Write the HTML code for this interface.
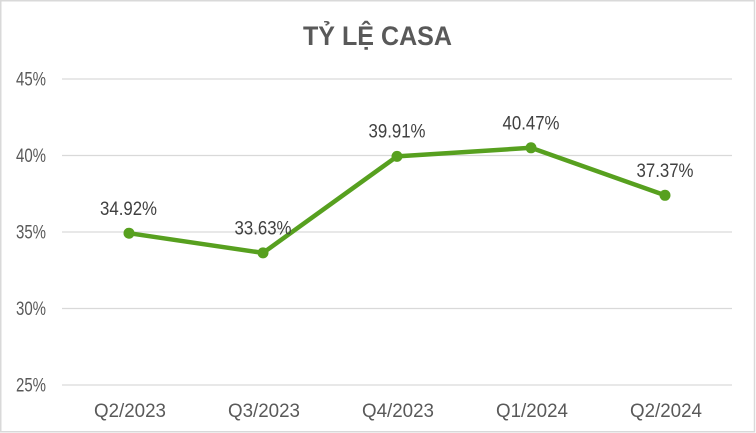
<!DOCTYPE html>
<html>
<head>
<meta charset="utf-8">
<style>
  html,body{margin:0;padding:0;background:#fff;}
  svg{display:block;}
  text{font-family:"Liberation Sans","DejaVu Sans",sans-serif;}
</style>
</head>
<body>
<svg width="756" height="433" viewBox="0 0 756 433" xmlns="http://www.w3.org/2000/svg">
  <rect x="0" y="0" width="756" height="433" fill="#ffffff"/>
  <rect x="0.75" y="0.75" width="753.75" height="431" fill="none" stroke="#d9d9d9" stroke-width="1.5"/>

  <!-- Title -->
  <text x="377.5" y="45" text-anchor="middle" font-size="27" font-weight="bold" fill="#595959" textLength="149" lengthAdjust="spacingAndGlyphs">TỶ LỆ CASA</text>

  <!-- Gridlines -->
  <g stroke="#d9d9d9" stroke-width="1.3">
    <line x1="62" y1="79" x2="732" y2="79"/>
    <line x1="62" y1="155.5" x2="732" y2="155.5"/>
    <line x1="62" y1="232" x2="732" y2="232"/>
    <line x1="62" y1="308.5" x2="732" y2="308.5"/>
    <line x1="62" y1="385" x2="732" y2="385"/>
  </g>

  <!-- Y labels -->
  <g font-size="19" fill="#595959" text-anchor="end">
    <text x="46" y="85.7" textLength="30" lengthAdjust="spacingAndGlyphs">45%</text>
    <text x="46" y="162.2" textLength="30" lengthAdjust="spacingAndGlyphs">40%</text>
    <text x="46" y="238.7" textLength="30" lengthAdjust="spacingAndGlyphs">35%</text>
    <text x="46" y="315.2" textLength="30" lengthAdjust="spacingAndGlyphs">30%</text>
    <text x="46" y="391.7" textLength="30" lengthAdjust="spacingAndGlyphs">25%</text>
  </g>

  <!-- X labels -->
  <g font-size="19" fill="#595959" text-anchor="middle">
    <text x="130" y="417" textLength="72" lengthAdjust="spacingAndGlyphs">Q2/2023</text>
    <text x="264" y="417" textLength="72" lengthAdjust="spacingAndGlyphs">Q3/2023</text>
    <text x="398" y="417" textLength="72" lengthAdjust="spacingAndGlyphs">Q4/2023</text>
    <text x="532" y="417" textLength="72" lengthAdjust="spacingAndGlyphs">Q1/2024</text>
    <text x="666" y="417" textLength="72" lengthAdjust="spacingAndGlyphs">Q2/2024</text>
  </g>

  <!-- Series line -->
  <polyline points="129,233.2 263,252.9 397,156.4 531,147.8 665,195.3" fill="none" stroke="#57a01f" stroke-width="4.5" stroke-linejoin="round" stroke-linecap="round"/>
  <g fill="#57a01f">
    <circle cx="129" cy="233.2" r="5.5"/>
    <circle cx="263" cy="252.9" r="5.5"/>
    <circle cx="397" cy="156.4" r="5.5"/>
    <circle cx="531" cy="147.8" r="5.5"/>
    <circle cx="665" cy="195.3" r="5.5"/>
  </g>

  <!-- Data labels -->
  <g font-size="19" fill="#404040" text-anchor="middle">
    <text x="128.5" y="215" textLength="57" lengthAdjust="spacingAndGlyphs">34.92%</text>
    <text x="263" y="234.5" textLength="57" lengthAdjust="spacingAndGlyphs">33.63%</text>
    <text x="397" y="137.5" textLength="57" lengthAdjust="spacingAndGlyphs">39.91%</text>
    <text x="531" y="129.3" textLength="57" lengthAdjust="spacingAndGlyphs">40.47%</text>
    <text x="665" y="177" textLength="57" lengthAdjust="spacingAndGlyphs">37.37%</text>
  </g>
</svg>
</body>
</html>
